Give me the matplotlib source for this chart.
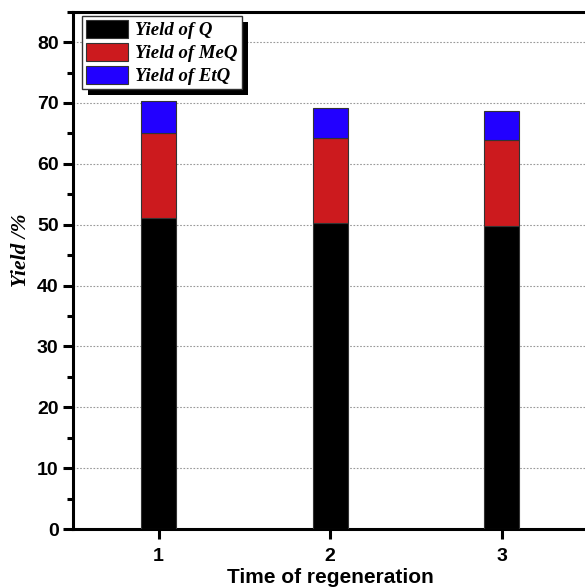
import numpy as np
import matplotlib
matplotlib.use("Agg")
from matplotlib import pyplot as plt
from matplotlib import patheffects as pe
from matplotlib.ticker import MultipleLocator

# Data
regeneration = [1, 2, 3]
yield_q = [51.1, 50.3, 49.8]
yield_meq = [14.0, 13.9, 14.1]
yield_etq = [5.2, 4.9, 4.8]
labels = ['Yield of Q', 'Yield of MeQ', 'Yield of EtQ']
colors = ['#000000', '#cc1a1e', '#2200ff']

fig = plt.figure(figsize=(5.85, 5.87), dpi=100)
# axes run slightly past the right edge, as in the cropped original
ax = fig.add_axes([72.75 / 585, 58 / 587, 514.75 / 585, 517.3 / 587])

x = np.asarray(regeneration)
w = 0.205
ax.bar(x, yield_q, w, color=colors[0], edgecolor='#333333', lw=0.8, label=labels[0], zorder=3)
ax.bar(x, yield_meq, w, bottom=yield_q, color=colors[1], edgecolor='#333333', lw=0.8,
       label=labels[1], zorder=3)
bottom2 = np.asarray(yield_q) + np.asarray(yield_meq)
ax.bar(x, yield_etq, w, bottom=bottom2, color=colors[2], edgecolor='#333333', lw=0.8,
       label=labels[2], zorder=3)

ax.set_xlim(0.5, 3.5)
ax.set_ylim(0, 85)
ax.set_xticks(regeneration)
ax.yaxis.set_major_locator(MultipleLocator(10))
ax.yaxis.set_minor_locator(MultipleLocator(5))
ax.grid(axis='y', linestyle=(0, (1.5, 1.5)), color='#999999', lw=0.8, zorder=0)

for s in ax.spines.values():
    s.set_linewidth(2.2)
ax.tick_params(axis='both', which='major', direction='out', length=7.2, width=2.2,
               labelsize=14, pad=3)
ax.tick_params(axis='x', which='major', pad=6.6)
ax.tick_params(axis='y', which='minor', direction='out', length=4, width=2.2)
for lab in ax.get_xticklabels() + ax.get_yticklabels():
    lab.set_fontfamily('Liberation Sans')
    lab.set_fontweight('bold')

ax.set_ylabel('Yield /%', fontfamily='Liberation Serif', fontweight='bold', fontstyle='italic',
              fontsize=15.5)
ax.yaxis.set_label_coords(-0.082, 0.539)
ax.set_xlabel('Time of regeneration', fontfamily='Liberation Sans', fontweight='bold',
              fontsize=15, labelpad=2)

leg = ax.legend(loc='upper left', bbox_to_anchor=(82 / 585, 1 - 16 / 587),
                bbox_transform=fig.transFigure, borderaxespad=0, fancybox=False,
                edgecolor='#333333', framealpha=1, handlelength=2.25, handleheight=1.1,
                labelspacing=0.2, handletextpad=0.4, borderpad=0.2,
                prop={'family': 'Liberation Serif', 'weight': 'bold', 'style': 'italic', 'size': 13.5})
leg.get_frame().set_linewidth(1.0)
leg.get_frame().set_path_effects([pe.SimplePatchShadow(offset=(4.5, -4.5), shadow_rgbFace='k', alpha=1),
                                  pe.Normal()])
leg.set_zorder(5)

plt.savefig('out.png', dpi=100)
